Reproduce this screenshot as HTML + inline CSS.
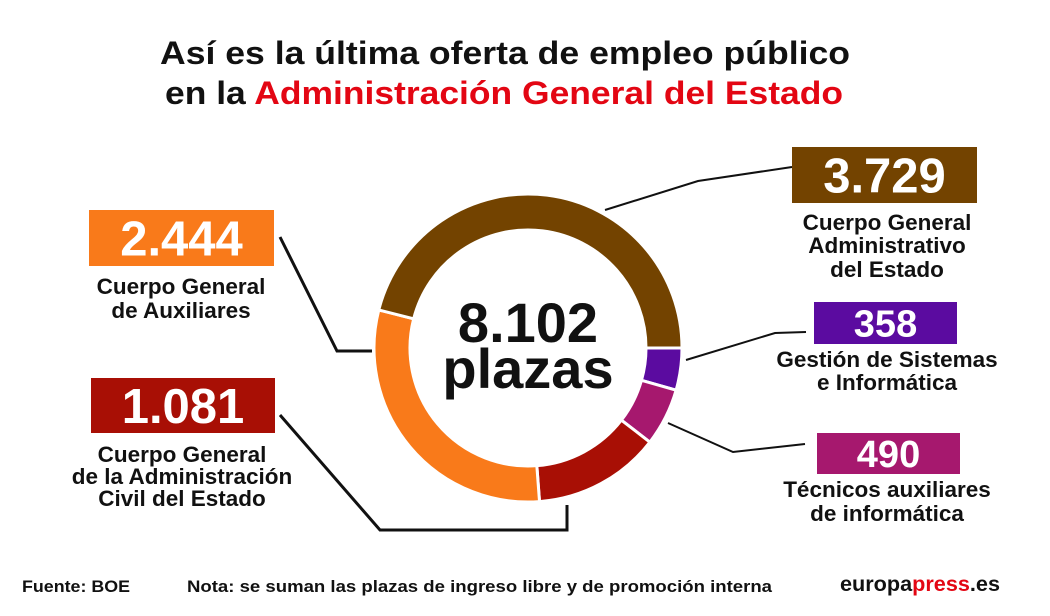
<!DOCTYPE html>
<html><head><meta charset="utf-8"><style>
html,body{margin:0;padding:0;background:#fff;}
svg{display:block;font-family:"Liberation Sans",sans-serif;font-weight:bold;}
</style></head><body>
<svg id="chart" width="1050" height="616" viewBox="0 0 1050 616">
<text x="505" y="64" font-size="32" text-anchor="middle" textLength="690" lengthAdjust="spacingAndGlyphs" fill="#111">Así es la última oferta de empleo público</text>
<text x="504" y="104" font-size="32" text-anchor="middle" textLength="678" lengthAdjust="spacingAndGlyphs" fill="#111">en la <tspan fill="#e30613">Administración General del Estado</tspan></text>
<g id="ring"></g>
<g id="leaders" fill="none" stroke="#111">
<polyline points="280,237 337,351 372,351" stroke-width="3"/>
<polyline points="280,415 380,530 567,530 567,505" stroke-width="3"/>
<polyline points="792,167 698,181 605,210" stroke-width="2"/>
<polyline points="806,332 775,333 686,360" stroke-width="2"/>
<polyline points="805,444 733,452 668,423" stroke-width="2"/>
</g>
<text x="528" y="342" font-size="56" text-anchor="middle" fill="#111">8.102</text>
<text x="528" y="388" font-size="56" text-anchor="middle" fill="#111">plazas</text>
<g id="labels"></g>
<text x="22" y="592" font-size="17" textLength="108" lengthAdjust="spacingAndGlyphs" fill="#111">Fuente: BOE</text>
<text x="187" y="592" font-size="17" textLength="585" lengthAdjust="spacingAndGlyphs" fill="#111">Nota: se suman las plazas de ingreso libre y de promoción interna</text>
<text x="840" y="591" font-size="21" textLength="160" lengthAdjust="spacingAndGlyphs" fill="#111">europa<tspan fill="#e30613">press</tspan>.es</text>
</svg>
<script>
const categories = ["Gestión de Sistemas e Informática","Técnicos auxiliares de informática","Cuerpo General de la Administración Civil del Estado","Cuerpo General de Auxiliares","Cuerpo General Administrativo del Estado"];
const values = [358, 490, 1081, 2444, 3729];
const valueLabels = ["358","490","1.081","2.444","3.729"];
const colors = ["#5b0ba0","#a6186e","#a80f05","#f97a1a","#734300"];
const NS = "http://www.w3.org/2000/svg";
const cx = 528, cy = 348, rO = 154, rI = 118;
const total = values.reduce((a,b)=>a+b,0);
function ang(v){ return v / total * 2 * Math.PI; }
function pt(r,a){ return [cx + r*Math.cos(a), cy + r*Math.sin(a)]; }
const ring = document.getElementById('ring');
let acc = 0;
values.forEach((v,i)=>{
  const a0 = ang(acc), a1 = ang(acc+v); acc += v;
  const large = (a1-a0) > Math.PI ? 1 : 0;
  const p0=pt(rO,a0), p1=pt(rO,a1), p2=pt(rI,a1), p3=pt(rI,a0);
  const d=`M${p0} A${rO},${rO} 0 ${large} 1 ${p1} L${p2} A${rI},${rI} 0 ${large} 0 ${p3} Z`;
  const path=document.createElementNS(NS,'path');
  path.setAttribute('d',d);
  path.setAttribute('fill',colors[i]);
  path.setAttribute('stroke','#fff');
  path.setAttribute('stroke-width','3');
  
  
  ring.appendChild(path);
});
const boxes = [
  {i:0,x:814,y:302,w:143,h:42,fs:38,lines:["Gestión de Sistemas","e Informática"],ly:[367,390],cx:887},
  {i:1,x:817,y:433,w:143,h:41,fs:38,lines:["Técnicos auxiliares","de informática"],ly:[497,521],cx:887},
  {i:2,x:91,y:378,w:184,h:55,fs:49,lines:["Cuerpo General","de la Administración","Civil del Estado"],ly:[462,484,506],cx:182},
  {i:3,x:89,y:210,w:185,h:56,fs:49,lines:["Cuerpo General","de Auxiliares"],ly:[294,318],cx:181},
  {i:4,x:792,y:147,w:185,h:56,fs:49,lines:["Cuerpo General","Administrativo","del Estado"],ly:[230,253,277],cx:887}
];
const lg = document.getElementById('labels');
boxes.forEach(b=>{
  const r=document.createElementNS(NS,'rect');
  r.setAttribute('x',b.x);r.setAttribute('y',b.y);r.setAttribute('width',b.w);r.setAttribute('height',b.h);
  r.setAttribute('fill',colors[b.i]);
  
  
  lg.appendChild(r);
  const t=document.createElementNS(NS,'text');
  t.setAttribute('x',b.x+b.w/2);t.setAttribute('y',b.y+b.h/2+b.fs*0.36);
  t.setAttribute('font-size',b.fs);t.setAttribute('text-anchor','middle');t.setAttribute('fill','#fff');
  t.textContent=valueLabels[b.i];
  
  
  lg.appendChild(t);
  b.lines.forEach((ln,k)=>{
    const c=document.createElementNS(NS,'text');
    c.setAttribute('x',b.cx);c.setAttribute('y',b.ly[k]);
    c.setAttribute('font-size','22.5');c.setAttribute('text-anchor','middle');c.setAttribute('fill','#111');
    c.textContent=ln;
    
    
    lg.appendChild(c);
  });
});
</script>
</body></html>
